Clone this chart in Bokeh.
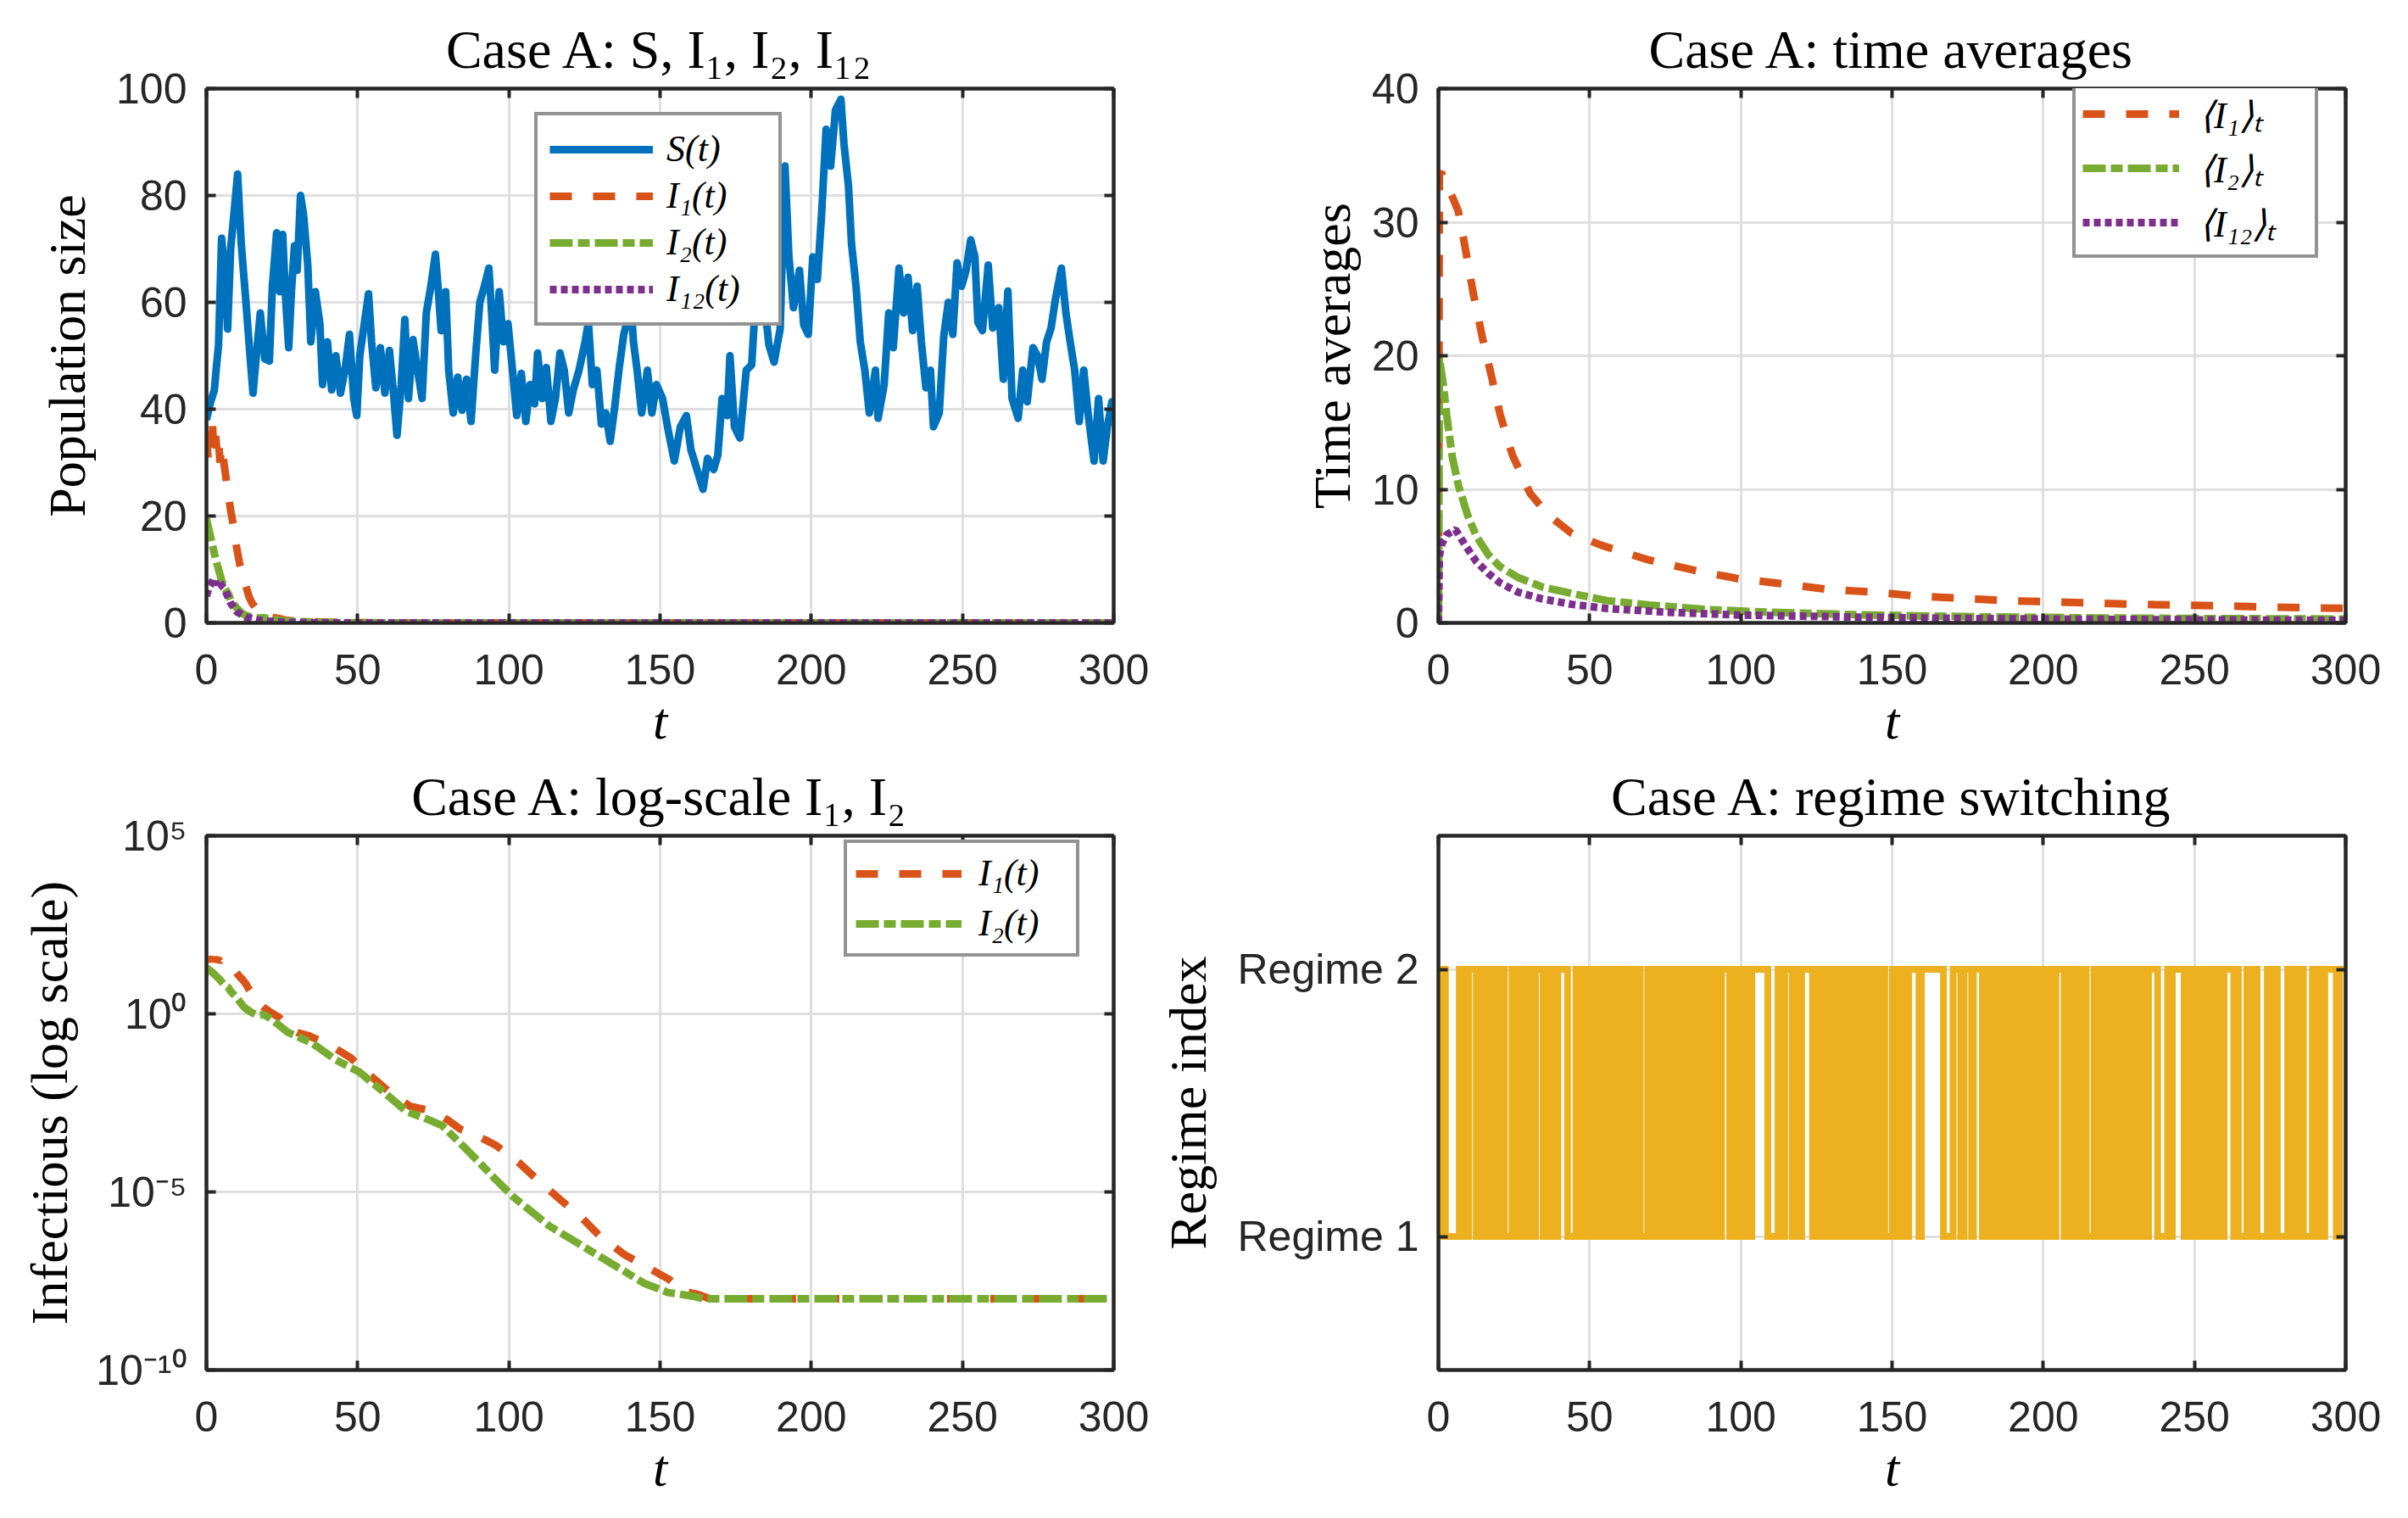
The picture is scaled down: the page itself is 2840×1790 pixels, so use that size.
from bokeh.plotting import figure
from bokeh.layouts import gridplot
from bokeh.models import Range1d, FixedTicker, LinearAxis, Legend, LegendItem, CustomJSTickFormatter
from bokeh.embed import file_html
from bokeh.resources import INLINE

# ---------------- data ----------------
X_TICKS = [0, 50, 100, 150, 200, 250, 300]

S_t = [0, 1.2, 2.6, 3.3, 4, 5, 6, 7, 8, 9,
       10.3, 11.5, 12.2, 13, 14.4, 15.4, 16.9, 17.8, 19.3, 20.8,
       21.8, 23.2, 24.2, 25.2, 26.2, 27.2, 28.1, 29.1, 30, 31.1,
       32.1, 33.5, 34.5, 35.3, 36, 37.5, 38.4, 40, 41.4, 42.8,
       44.3, 45.8, 47.3, 48.7, 49.7, 50.7, 52.2, 53.6, 54.6, 56,
       57.5, 59, 60.5, 62, 63, 64.4, 65.6, 66.8, 68.3, 69.8,
       71.3, 72.7, 74.2, 75.7, 76.7, 77.6, 79.1, 80.1, 81.6, 83.1,
       84.5, 86, 87.5, 89, 90.4, 91.9, 93.4, 94.3, 95.3, 96.8,
       98.2, 99.7, 101.2, 102.6, 104.1, 105.6, 107, 108.5, 109.5, 111,
       112.4, 113.9, 115.4, 116.9, 118.3, 119.8, 121.3, 123.2, 125.2, 126.3,
       127.6, 129.1, 130.6, 132, 133.5, 135, 136.5, 138, 139.4, 140.5,
       141.2, 142.4, 143.9, 145.8, 147.3, 148.8, 150.8, 152.7, 154.7, 156.7,
       158.7, 160.2, 162.2, 164.2, 165.7, 167.7, 169.1, 170.5, 172.2, 173.1,
       174.6, 176.4, 178.5, 180.3, 181.3, 182.8, 184.5, 186, 187.7, 189.7,
       191.3, 192.6, 194.1, 196.1, 197.5, 199, 200.5, 202, 203.4, 204.9,
       206.4, 208, 209.8, 210.8, 212.3, 213.3, 214.8, 216.2, 217.7, 219.2,
       221.2, 222.1, 224.1, 225.6, 227.1, 229, 230.5, 232, 233.5, 235,
       236.4, 237.9, 239.4, 240.4, 242.3, 243.8, 245.3, 246.8, 248.2, 249.7,
       251.2, 252.7, 254.1, 255.1, 256.6, 258.5, 260, 262, 263.5, 265,
       266.4, 268.4, 269.9, 271.4, 273.3, 274.8, 276.3, 277.8, 279.3, 280.7,
       282.7, 284.2, 285.6, 287.1, 288.6, 290.1, 291.5, 293.5, 295, 296.5,
       297.9, 299.4, 300]
S_v = [38, 41, 43.6, 48, 52, 72, 66, 55, 70, 76,
       84, 71, 66, 60.5, 50, 43, 52.6, 58, 49.4, 49,
       63, 73, 62, 72.7, 60.5, 51.5, 62, 70.6, 66, 80,
       76.4, 67, 52.6, 57, 62, 56, 44.6, 52.6, 43.6, 50,
       43, 47.3, 54, 42, 38.8, 50, 56, 61.6, 52.6, 44,
       51.5, 43, 51, 42, 35.1, 44.6, 56.8, 42, 53, 47.3,
       42, 58, 63, 69, 62, 54.7, 62, 47.3, 39.3, 46,
       39.8, 45.6, 37.7, 50, 60, 63, 66.4, 58, 47.3, 62,
       52.6, 56, 47.3, 38.8, 46.7, 37.7, 44.6, 41, 50.5, 42,
       47.8, 37.7, 42, 50.5, 47.3, 39.3, 43.6, 47.3, 52.6, 56.3,
       44.6, 47.3, 37.2, 39.3, 34, 40.4, 47.8, 54, 57, 59,
       52.6, 47.3, 39.3, 47.3, 39.3, 44.6, 42, 36, 30.3, 36.7,
       38.8, 32.4, 28.7, 25, 30.8, 28.7, 31.4, 42, 38.8, 50,
       36.7, 34.6, 47.3, 48.3, 58, 66, 60, 52, 48.8, 55,
       85.5, 68.5, 59, 66, 55.8, 54, 68.5, 64.3, 76.4, 92.4,
       85.5, 96, 98, 89.7, 81.8, 71, 63, 52.6, 47.3, 39.3,
       47.3, 38.3, 44.6, 58, 51.5, 66.4, 58, 64.7, 54.7, 63,
       52.6, 44, 47.3, 36.7, 39.3, 53.6, 60, 54, 67.4, 63,
       66, 71.7, 68.5, 56.3, 54.7, 67, 55.2, 59, 45.6, 62.1,
       42, 38.3, 47.3, 41.4, 51.5, 50, 45.6, 52.6, 55.2, 60.5,
       66.4, 58, 52.6, 47.3, 37.7, 47.3, 39.3, 30.3, 42, 30.3,
       36.7, 41.4, 37.7]

I1_t = [0, 0.5, 1, 1.5, 2, 2.5, 3, 3.5, 4, 4.5, 5, 5.5, 6,
        7, 8, 9, 10, 11, 12, 13, 14, 15, 16, 17, 18, 19, 20,
        22, 24, 27, 30, 34, 41, 47.6, 53.4, 60.3, 67.2,
        75, 80, 84, 89.9, 95.7, 103.6, 110.6, 117.5, 124.4, 130.3,
        138.2, 145, 153, 157, 163, 166.4, 300]
I1_v = [35, 31, 36, 33, 37, 31, 35, 32, 34, 30, 33, 31, 29,
        25, 21, 18, 14, 11, 9, 7, 5, 3.8, 3.0, 2.2, 1.8, 1.5, 1.3,
        1.0, 0.8, 0.42, 0.3, 0.24, 0.13, 0.059, 0.021, 0.0066, 0.00257,
        0.00182, 0.00102, 5.75e-4, 3.63e-4, 2.04e-4, 6.3e-5, 1.78e-5, 5.6e-6, 1.78e-6, 5.5e-7,
        1.74e-7, 8.3e-8, 3.5e-8, 1.7e-8, 1.29e-8, 1.0e-8, 1.0e-8]

I2_t = [0, 1, 2, 3, 4, 5, 6, 7.3, 8, 9, 10, 11, 12, 13,
        15.1, 17, 19, 21, 24, 27, 35, 42.6, 50.5, 58.4, 66.2,
        74, 78, 84, 89.9, 95.7, 101.6, 107.5, 113.4, 121.2, 129,
        136.9, 144.8, 152.6, 160.5, 164.4, 300]
I2_v = [19.5, 17, 14.5, 12, 10, 8, 6.5, 5.4, 4.3, 3.5, 2.8, 2.2, 1.7, 1.4,
        1.07, 0.9, 0.95, 0.75, 0.48, 0.3, 0.15, 0.052, 0.0234, 0.0066, 0.0018,
        0.00102, 7.2e-4, 2.3e-4, 7.2e-5, 2.2e-5, 7.1e-6, 2.8e-6, 1.1e-6, 4.4e-7, 1.74e-7,
        6.9e-8, 2.7e-8, 1.5e-8, 1.2e-8, 1.0e-8, 1.0e-8]

I12_t = [0, 0.7, 1.5, 2.4, 3.2, 4, 5, 6, 7, 8, 10, 13, 17, 21, 25, 30, 40, 60, 100, 300]
I12_v = [5, 6.5, 7.2, 8.3, 7.2, 8.0, 7.0, 6.4, 5.0, 3.7, 2.1, 1.1, 0.5, 0.3, 0.15, 0.08, 0.02, 0.002, 1e-5, 1e-8]

A1_t = [0, 0.3, 1, 2, 3, 4.6, 6.6, 8.6, 11.5, 14.5, 17.5, 20.4, 24.4, 30.3, 36.2, 44.1, 54,
        69.7, 85.5, 99.3, 115, 129, 144.7, 158.5, 172.3, 188, 201.9, 217.7, 231.5, 245, 261, 277, 290.6, 300]
A1_v = [0, 33.6, 33.7, 33.2, 32.6, 31.9, 30.8, 28.4, 24.7, 21.4, 18.5, 15.6, 12.6, 9.7, 8.1, 6.7, 5.8,
        4.7, 3.9, 3.3, 2.9, 2.5, 2.3, 2.0, 1.85, 1.66, 1.58, 1.47, 1.39, 1.34, 1.26, 1.18, 1.12, 1.09]
A2_t = [0, 0.3, 1.7, 2.7, 4.6, 6.6, 9.6, 12.5, 16.5, 20.4, 26.3, 34.2, 44.1, 56, 69.7, 89.4,
        109, 138.8, 178, 217.7, 257, 300]
A2_v = [0, 19.8, 17.7, 15.6, 12.4, 10.3, 8.1, 6.5, 5.1, 4.2, 3.4, 2.7, 2.2, 1.66, 1.34, 0.99,
        0.8, 0.61, 0.45, 0.37, 0.32, 0.29]
A12_t = [0, 0.3, 1.1, 2.7, 5.6, 8.6, 12.5, 16.5, 20.4, 26.3, 34.2, 44.1, 56, 75.6, 99.3,
         138.8, 178, 237, 300]
A12_v = [0, 5.0, 5.9, 6.6, 7.0, 5.9, 4.6, 3.7, 3.0, 2.3, 1.8, 1.39, 1.07, 0.8, 0.59,
         0.43, 0.32, 0.24, 0.19]

REGIME_START = 2
SWITCH_T = [0.9, 1.5, 2.3, 6.9, 8.4, 10.0, 12.5, 14.0, 15.7, 17.1, 18.6, 20.3, 21.8,
            24.3, 25.5, 26.9, 28.3, 29.4, 30.9, 32.1, 34.6, 36.1, 37.9, 39.5, 42.7,
            45.5, 46.8, 48.4, 49.7, 51.3, 52.6, 54.1, 55.7, 57.0, 58.5, 60.0, 61.3, 62.8, 64.1, 65.5, 66.7,
            69.2, 70.7, 72.3, 73.6, 75.2, 76.8, 78.1, 79.7, 81.2, 82.6, 84.3, 85.7, 87.2, 88.6, 90.3, 91.9, 93.6,
            96.3, 97.8, 99.2, 100.7, 102.1, 103.6, 108.9, 112.3, 113.4, 114.5, 117.0, 118.0, 119.1, 120.1,
            123.7, 125.1, 126.7, 128.2, 129.6, 131.2, 132.7, 134.1, 135.7, 137.1, 138.7, 140.2, 141.6,
            143.2, 144.6, 146.1, 147.6, 150.1, 151.5, 152.8, 154.2, 155.5, 158.9, 159.7, 167.0, 170.15,
            172.7, 173.8, 176.3, 176.9, 179.9, 181.5, 183.2, 184.7, 186.4, 188.0, 189.5, 191.2, 192.8,
            194.3, 195.9, 197.6, 199.1, 200.8, 202.5, 204.2, 206.9, 208.1, 209.3, 210.6, 211.8, 213.0,
            214.2, 216.8, 218.2, 219.9, 221.3, 222.7, 224.4, 225.8, 227.2, 228.9, 230.3, 231.7, 233.4,
            234.8, 237.8, 241.1, 241.9, 242.7, 246.6, 248.0, 249.5, 251.0, 252.4, 253.9, 255.4, 256.9,
            258.3, 259.8, 263.0, 263.75, 264.5, 267.3, 268.4, 269.6, 270.7, 274.1, 275.2, 276.3, 277.4,
            280.8, 282.5, 284.3, 286.0, 289.0, 290.0, 291.1, 292.1, 293.1, 296.9, 298.0]
T_END = 300

# ---------------- styling ----------------
C_S, C_I1, C_I2, C_I12, C_R = "#0072BD", "#D95319", "#77AC30", "#7E2F8E", "#EDB120"
AX = "#262626"
GRID = "#dfdfdf"
SERIF = "Liberation Serif"
SANS = "Liberation Sans"
LW = 9
LW_REG = 8
DASH = "26 25"
DASHDOT = "27 6 14 6"
DOT = "8 5"
FW, FH = 1070, 630


def make(title, y_range, y_type, left, right, top, bottom):
    p = figure(output_backend="svg", toolbar_location=None, title=title,
               x_range=Range1d(0, 300), y_range=y_range, y_axis_type=y_type,
               frame_width=FW, frame_height=FH,
               min_border_left=left, min_border_right=right,
               min_border_top=top, min_border_bottom=bottom)
    p.background_fill_color = "white"
    p.border_fill_color = "white"
    p.outline_line_color = AX
    p.outline_line_width = 4
    p.title.text_font = SERIF
    p.title.text_font_size = "64px"
    p.title.text_font_style = "normal"
    p.title.text_color = "black"
    p.title.align = "center"
    p.title.standoff = 22
    return p


def style_axes(p, yticks, ylabel, ylab_standoff, yover=None):
    xt = FixedTicker(ticks=X_TICKS)
    yt = FixedTicker(ticks=yticks)
    p.xaxis.ticker = xt
    p.yaxis.ticker = yt
    p.xgrid.ticker = xt
    p.ygrid.ticker = yt
    for g in (p.xgrid, p.ygrid):
        g.grid_line_color = GRID
        g.grid_line_width = 3
    for ax in list(p.xaxis) + list(p.yaxis):
        ax.axis_line_color = AX
        ax.axis_line_width = 4
        ax.major_tick_in = 11
        ax.major_tick_out = 0
        ax.major_tick_line_color = AX
        ax.major_tick_line_width = 4
        ax.minor_tick_line_color = None
        ax.major_label_text_font = SANS
        ax.major_label_text_font_size = "50px"
        ax.major_label_text_color = AX
        ax.axis_label_text_font = SERIF
        ax.axis_label_text_font_size = "62px"
        ax.axis_label_text_font_style = "normal"
        ax.axis_label_text_color = "black"
    p.xaxis.axis_label = "t"
    p.xaxis.axis_label_text_font_style = "italic"
    p.xaxis.major_label_standoff = 37
    p.xaxis.axis_label_standoff = 6
    p.yaxis.axis_label = ylabel
    p.yaxis.major_label_standoff = 23
    p.yaxis.axis_label_standoff = ylab_standoff
    if yover:
        p.yaxis.major_label_overrides = yover
    # mirrored box ticks (top / right), no labels
    for side, ticks in (("above", X_TICKS), ("right", yticks)):
        ax = LinearAxis(ticker=FixedTicker(ticks=ticks),
                        formatter=CustomJSTickFormatter(code="return ''"),
                        major_label_text_font_size="1px", major_label_standoff=0,
                        axis_line_color=AX, axis_line_width=4,
                        major_tick_in=11, major_tick_out=0,
                        major_tick_line_color=AX, major_tick_line_width=4,
                        minor_tick_line_color=None)
        p.add_layout(ax, side)


def legend(p, items, loc, glyph_w, label_w, standoff, padding, spacing):
    lg = Legend(items=[LegendItem(label=l, renderers=[r]) for l, r in items],
                location=loc, orientation="vertical",
                border_line_color=AX, border_line_width=4,
                background_fill_color="white", background_fill_alpha=1.0,
                label_text_font=SERIF, label_text_font_style="italic",
                label_text_font_size="44px", label_text_color="black",
                glyph_width=glyph_w, glyph_height=40, label_width=label_w, label_height=50,
                label_standoff=standoff, padding=padding, spacing=spacing, margin=0)
    p.add_layout(lg)


# ---------- panel 1 ----------
p1 = make("Case A: S, I\u2081, I\u2082, I\u2081\u2082", Range1d(0, 100), "linear", 243, 47, 104, 156)
style_axes(p1, [0, 20, 40, 60, 80, 100], "Population size", 21)
r_s = p1.line(S_t, S_v, line_width=LW, color=C_S, line_join="round")
r_1 = p1.line(I1_t, I1_v, line_width=LW, color=C_I1, line_dash=DASH)
r_2 = p1.line(I2_t, I2_v, line_width=LW, color=C_I2, line_dash=DASHDOT)
r_12 = p1.line(I12_t, I12_v, line_width=LW, color=C_I12, line_dash=DOT)
legend(p1, [("S(t)", r_s), ("I\u2081(t)", r_1), ("I\u2082(t)", r_2), ("I\u2081\u2082(t)", r_12)],
       (387, 350), 122, 118, 16, 14, 4)

# ---------- panel 2 ----------
p2 = make("Case A: time averages", Range1d(0, 40), "linear", 336, 58, 104, 156)
style_axes(p2, [0, 10, 20, 30, 40], "Time averages", 10)
a1 = p2.line(A1_t, A1_v, line_width=LW, color=C_I1, line_dash=DASH)
a2 = p2.line(A2_t, A2_v, line_width=LW, color=C_I2, line_dash=DASHDOT)
a12 = p2.line(A12_t, A12_v, line_width=LW, color=C_I12, line_dash=DOT)
legend(p2, [("\u27e8I\u2081\u27e9\u209c", a1), ("\u27e8I\u2082\u27e9\u209c", a2),
            ("\u27e8I\u2081\u2082\u27e9\u209c", a12)],
       (748, 430), 114, 128, 24, 8, 4)

# ---------- panel 3 ----------
LOG_TICKS = [1e-10, 1e-5, 1, 1e5]
LOG_LABELS = {1e-10: "10\u207b\u00b9\u2070", 1e-5: "10\u207b\u2075", 1: "10\u2070", 1e5: "10\u2075"}
p3 = make("Case A: log-scale I\u2081, I\u2082", Range1d(1e-10, 1e5), "log", 243, 47, 94, 160)
style_axes(p3, LOG_TICKS, "Infectious (log scale)", 18, LOG_LABELS)
b1 = p3.line(I1_t, I1_v, line_width=LW, color=C_I1, line_dash=DASH)
b2 = p3.line(I2_t, I2_v, line_width=LW, color=C_I2, line_dash=DASHDOT)
legend(p3, [("I\u2081(t)", b1), ("I\u2082(t)", b2)], (752, 487), 125, 105, 20, 10, 8)

# ---------- panel 4 ----------
reg_x = [0] + SWITCH_T + [T_END]
states = [REGIME_START]
for _ in SWITCH_T:
    states.append(3 - states[-1])
reg_y = states + [states[-1]]
p4 = make("Case A: regime switching", Range1d(0.5, 2.5), "linear", 336, 58, 94, 160)
style_axes(p4, [1, 2], "Regime index", 22, {1: "Regime 1", 2: "Regime 2"})
p4.step(reg_x, reg_y, mode="after", line_width=LW_REG, color=C_R, line_join="miter")

grid = gridplot([[p1, p2], [p3, p4]], toolbar_location=None)
open("out.html", "w").write(file_html(grid, INLINE, title="Case A"))
